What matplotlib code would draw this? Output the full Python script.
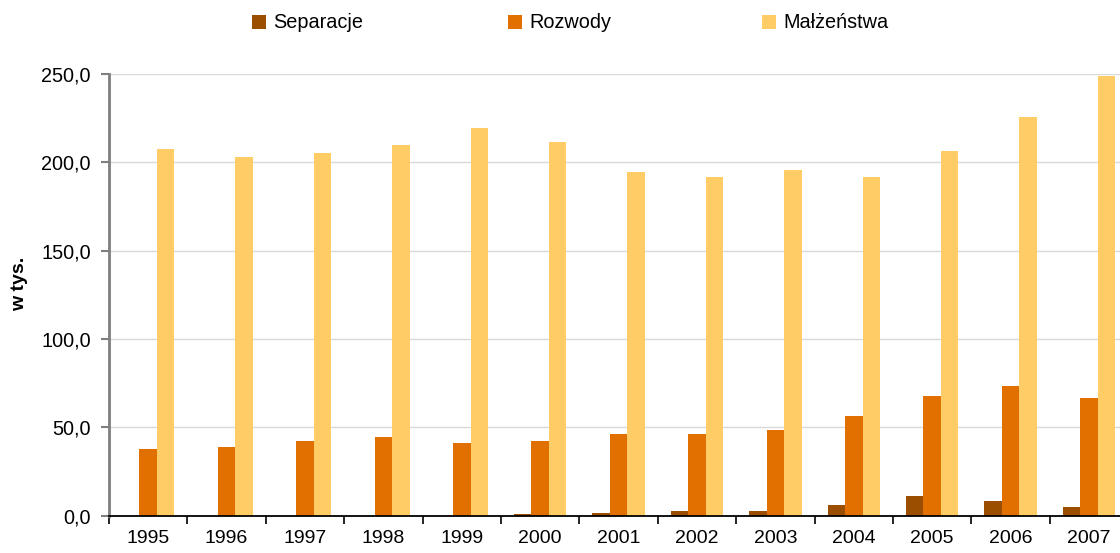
import matplotlib
matplotlib.use("Agg")
import matplotlib.pyplot as plt
from matplotlib.ticker import FuncFormatter, FixedLocator
import numpy as np

years = ["1995", "1996", "1997", "1998", "1999", "2000", "2001",
         "2002", "2003", "2004", "2005", "2006", "2007"]
separacje = [0.0, 0.0, 0.0, 0.0, 0.0, 1.1, 1.7, 2.9, 2.9, 6.1, 11.2, 8.5, 5.1]
rozwody = [37.9, 39.0, 42.4, 44.7, 41.3, 42.4, 46.0, 46.0, 48.5, 56.6, 67.7, 73.4, 66.6]
malzenstwa = [207.4, 202.9, 205.2, 209.7, 219.3, 211.5, 194.5, 191.7, 195.5, 191.7, 206.2, 225.5, 248.7]
series_names = ["Separacje", "Rozwody", "Małżeństwa"]
colors = ["#9C4E00", "#E17000", "#FFCC66"]

plt.rcParams["font.family"] = ["Liberation Sans", "DejaVu Sans"]

W, H = 1120, 553
fig = plt.figure(figsize=(W / 100, H / 100), dpi=100)
ax = fig.add_axes([109 / W, (H - 515.7) / H, 13 * 78.4 / W, 442 / H])

x = np.arange(len(years))
bw = 0.222
bars = []
for k, (vals, c) in enumerate(zip([separacje, rozwody, malzenstwa], colors)):
    b = ax.bar(x + (k - 1) * bw, vals, width=bw, color=c, edgecolor="none",
               label=series_names[k], zorder=2)
    bars.append(b)

ax.set_xlim(-0.5, len(years) - 0.5)
ax.set_ylim(0, 250)
ax.set_yticks(np.arange(0, 251, 50))
ax.yaxis.set_major_formatter(FuncFormatter(lambda v, p: f"{v:.1f}".replace(".", ",")))
ax.grid(axis="y", color="#D9D9D9", linewidth=1.0, zorder=0)
ax.set_axisbelow(True)

ax.xaxis.set_major_locator(FixedLocator(np.arange(-0.5, len(years), 1.0)))
ax.xaxis.set_minor_locator(FixedLocator(x))
ax.set_xticklabels([], minor=False)
ax.set_xticklabels(years, minor=True)
ax.tick_params(axis="x", which="major", length=6, width=1.2, color="black", direction="out")
ax.tick_params(axis="x", which="minor", length=0, pad=10.5, labelsize=14)
ax.tick_params(axis="y", length=6, width=1.5, color="#7F7F7F", pad=7, labelsize=14.3)

for s in ["top", "right"]:
    ax.spines[s].set_visible(False)
ax.spines["left"].set_color("#7F7F7F")
ax.spines["left"].set_linewidth(2.0)
ax.spines["bottom"].set_color("black")
ax.spines["bottom"].set_linewidth(1.3)

fig.text(20 / W, 1 - 284 / H, "w tys.", rotation=90, fontsize=14, fontweight="bold",
         ha="center", va="center")

fs = 14.3
fs_px = fs * 100 / 72
starts = [252, 508, 762]
for b, name, xs in zip(bars, series_names, starts):
    fig.legend([b], [name], loc="center left", bbox_to_anchor=(xs / W, 1 - 23 / H),
               frameon=False, fontsize=fs, borderpad=0, borderaxespad=0,
               handlelength=14 / fs_px, handleheight=14 / fs_px,
               handletextpad=7 / fs_px)

fig.savefig("out.png", dpi=100)
